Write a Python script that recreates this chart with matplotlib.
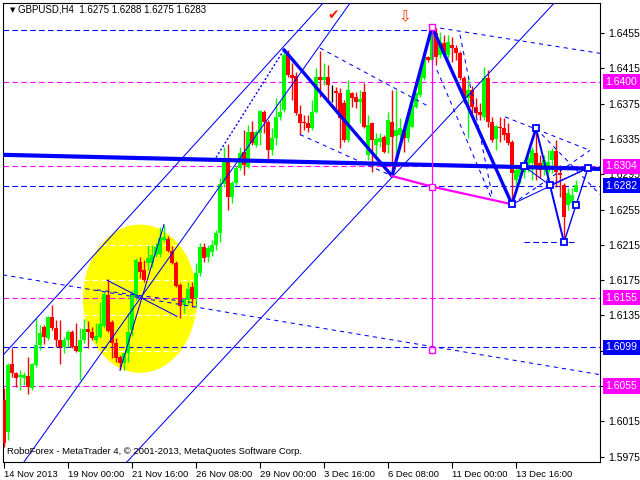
import numpy as np
import matplotlib
matplotlib.use('Agg')
import matplotlib.pyplot as plt
from matplotlib.patches import Ellipse

plt.rcParams['font.family'] = ['Liberation Sans', 'DejaVu Sans']

# GBPUSD H4 candles
opens = [
    1.6039, 1.6003, 1.6080, 1.6070, 1.6065, 1.6064, 1.6066, 1.6053, 1.6079, 1.6102,
    1.6122, 1.6109, 1.6133, 1.6121, 1.6107, 1.6099, 1.6107, 1.6116, 1.6100, 1.6094,
    1.6107, 1.6120, 1.6116, 1.6107, 1.6111, 1.6123, 1.6158, 1.6128, 1.6104, 1.6088,
    1.6081, 1.6092, 1.6119, 1.6156, 1.6196, 1.6186, 1.6194, 1.6194, 1.6204, 1.6205,
    1.6221, 1.6222, 1.6208, 1.6194, 1.6170, 1.6147, 1.6153, 1.6167, 1.6155, 1.6183,
    1.6213, 1.6201, 1.6207, 1.6215, 1.6228, 1.6284, 1.6313, 1.6269, 1.6285, 1.6302,
    1.6320, 1.6303, 1.6343, 1.6328, 1.6342, 1.6366, 1.6354, 1.6322, 1.6336, 1.6360,
    1.6368, 1.6430, 1.6407, 1.6406, 1.6363, 1.6354, 1.6353, 1.6347, 1.6366, 1.6405,
    1.6402, 1.6405, 1.6388, 1.6389, 1.6387, 1.6376, 1.6334, 1.6387, 1.6383, 1.6377,
    1.6388, 1.6317, 1.6353, 1.6328, 1.6332, 1.6337, 1.6328, 1.6354, 1.6338, 1.6339,
    1.6345, 1.6336, 1.6349, 1.6371, 1.6385, 1.6404, 1.6428, 1.6424, 1.6455, 1.6430,
    1.6444, 1.6430, 1.6441, 1.6438, 1.6432, 1.6404, 1.6381, 1.6390, 1.6371, 1.6366,
    1.6360, 1.6404, 1.6354, 1.6335, 1.6349, 1.6347, 1.6342, 1.6332, 1.6289, 1.6292,
    1.6298, 1.6303, 1.6308, 1.6319, 1.6308, 1.6300, 1.6298, 1.6311, 1.6321, 1.6296,
    1.6283, 1.6260, 1.6262, 1.6275]
highs = [
    1.6053, 1.6081, 1.6098, 1.6071, 1.6073, 1.6071, 1.6088, 1.6081, 1.6132, 1.6124,
    1.6124, 1.6134, 1.6147, 1.6130, 1.6130, 1.6111, 1.6119, 1.6119, 1.6126, 1.6121,
    1.6131, 1.6129, 1.6122, 1.6126, 1.6150, 1.6162, 1.6176, 1.6130, 1.6109, 1.6090,
    1.6092, 1.6138, 1.6164, 1.6200, 1.6201, 1.6198, 1.6215, 1.6215, 1.6217, 1.6235,
    1.6238, 1.6225, 1.6214, 1.6197, 1.6172, 1.6155, 1.6173, 1.6173, 1.6194, 1.6217,
    1.6217, 1.6215, 1.6221, 1.6232, 1.6291, 1.6326, 1.6329, 1.6287, 1.6304, 1.6326,
    1.6345, 1.6351, 1.6355, 1.6345, 1.6368, 1.6368, 1.6356, 1.6347, 1.6381, 1.6379,
    1.6436, 1.6436, 1.6421, 1.6411, 1.6373, 1.6362, 1.6362, 1.6379, 1.6415, 1.6435,
    1.6421, 1.6419, 1.6396, 1.6394, 1.6393, 1.6379, 1.6402, 1.6388, 1.6388, 1.6390,
    1.6398, 1.6362, 1.6354, 1.6342, 1.6342, 1.6339, 1.6366, 1.6390, 1.6390, 1.6359,
    1.6351, 1.6362, 1.6377, 1.6388, 1.6415, 1.6433, 1.6429, 1.6462, 1.6461, 1.6456,
    1.6453, 1.6453, 1.6450, 1.6441, 1.6435, 1.6406, 1.6405, 1.6395, 1.6381, 1.6376,
    1.6416, 1.6413, 1.6360, 1.6351, 1.6360, 1.6359, 1.6353, 1.6334, 1.6302, 1.6306,
    1.6311, 1.6319, 1.6326, 1.6347, 1.6317, 1.6317, 1.6322, 1.6325, 1.6334, 1.6306,
    1.6285, 1.6279, 1.6279, 1.6288]
lows = [
    1.5986, 1.5994, 1.6065, 1.6054, 1.6051, 1.6056, 1.6046, 1.6051, 1.6077, 1.6096,
    1.6103, 1.6107, 1.6119, 1.6099, 1.6080, 1.6092, 1.6099, 1.6098, 1.6094, 1.6062,
    1.6104, 1.6098, 1.6107, 1.6104, 1.6109, 1.6121, 1.6116, 1.6087, 1.6082, 1.6073,
    1.6073, 1.6082, 1.6112, 1.6153, 1.6177, 1.6173, 1.6187, 1.6190, 1.6201, 1.6201,
    1.6218, 1.6207, 1.6193, 1.6167, 1.6132, 1.6138, 1.6147, 1.6145, 1.6145, 1.6180,
    1.6196, 1.6196, 1.6202, 1.6209, 1.6218, 1.6281, 1.6255, 1.6262, 1.6283, 1.6300,
    1.6294, 1.6302, 1.6328, 1.6326, 1.6328, 1.6342, 1.6311, 1.6317, 1.6328, 1.6356,
    1.6366, 1.6405, 1.6379, 1.6362, 1.6339, 1.6345, 1.6343, 1.6345, 1.6364, 1.6383,
    1.6396, 1.6376, 1.6377, 1.6366, 1.6325, 1.6332, 1.6332, 1.6371, 1.6370, 1.6353,
    1.6347, 1.6311, 1.6298, 1.6317, 1.6326, 1.6319, 1.6319, 1.6293, 1.6317, 1.6334,
    1.6320, 1.6332, 1.6347, 1.6370, 1.6383, 1.6402, 1.6422, 1.6422, 1.6419, 1.6427,
    1.6428, 1.6427, 1.6422, 1.6424, 1.6402, 1.6376, 1.6336, 1.6364, 1.6360, 1.6356,
    1.6356, 1.6349, 1.6332, 1.6322, 1.6332, 1.6334, 1.6328, 1.6261, 1.6281, 1.6285,
    1.6291, 1.6298, 1.6289, 1.6289, 1.6291, 1.6294, 1.6285, 1.6296, 1.6281, 1.6269,
    1.6218, 1.6255, 1.6258, 1.6275]
closes = [
    1.5991, 1.6079, 1.6070, 1.6064, 1.6068, 1.6068, 1.6054, 1.6080, 1.6102, 1.6115,
    1.6111, 1.6133, 1.6121, 1.6107, 1.6099, 1.6107, 1.6116, 1.6099, 1.6095, 1.6107,
    1.6120, 1.6116, 1.6109, 1.6112, 1.6125, 1.6159, 1.6117, 1.6104, 1.6087, 1.6081,
    1.6092, 1.6116, 1.6158, 1.6198, 1.6184, 1.6175, 1.6200, 1.6204, 1.6213, 1.6223,
    1.6224, 1.6208, 1.6194, 1.6168, 1.6146, 1.6154, 1.6165, 1.6154, 1.6183, 1.6213,
    1.6200, 1.6211, 1.6215, 1.6228, 1.6284, 1.6313, 1.6269, 1.6285, 1.6302, 1.6319,
    1.6306, 1.6343, 1.6330, 1.6343, 1.6367, 1.6354, 1.6322, 1.6336, 1.6360, 1.6366,
    1.6430, 1.6407, 1.6404, 1.6364, 1.6353, 1.6353, 1.6347, 1.6366, 1.6405, 1.6402,
    1.6405, 1.6396, 1.6388, 1.6387, 1.6359, 1.6334, 1.6390, 1.6381, 1.6377, 1.6380,
    1.6349, 1.6351, 1.6334, 1.6335, 1.6336, 1.6320, 1.6356, 1.6337, 1.6345, 1.6347,
    1.6336, 1.6360, 1.6373, 1.6387, 1.6411, 1.6428, 1.6424, 1.6455, 1.6428, 1.6445,
    1.6432, 1.6445, 1.6438, 1.6432, 1.6404, 1.6381, 1.6390, 1.6371, 1.6364, 1.6362,
    1.6404, 1.6354, 1.6334, 1.6350, 1.6347, 1.6339, 1.6330, 1.6296, 1.6300, 1.6302,
    1.6306, 1.6313, 1.6322, 1.6302, 1.6300, 1.6311, 1.6309, 1.6321, 1.6298, 1.6294,
    1.6247, 1.6274, 1.6272, 1.6283]

date_bars = [0, 16, 32, 48, 64, 80, 96, 112, 128]
date_labels = ['14 Nov 2013', '19 Nov 00:00', '21 Nov 16:00', '26 Nov 08:00',
               '29 Nov 00:00', '3 Dec 16:00', '6 Dec 08:00', '11 Dec 00:00', '13 Dec 16:00']
price_ticks = [1.6455, 1.6415, 1.6375, 1.6335, 1.6295, 1.6255, 1.6215,
               1.6175, 1.6135, 1.6095, 1.6055, 1.6015, 1.5975]

# horizontal levels
magenta_levels = [1.6400, 1.6304, 1.6155, 1.6055]
blue_levels = [1.6282, 1.6099]
tagged_levels = [1.6400, 1.6304, 1.6282, 1.6155, 1.6099, 1.6055]
tagged_colors = ['#ff00ff', '#ff00ff', '#0000ff', '#ff00ff', '#0000ff', '#ff00ff']
top_level = 1.6458
low_level = 1.6218

# wave analysis objects (bar index, price)
zigzag_bars = [70, 97, 107, 127, 133, 140, 146]
zigzag_prices = [1.6436, 1.6293, 1.6462, 1.6261, 1.6347, 1.6218, 1.6302]
pink_bars = [97, 107, 127]
pink_prices = [1.6293, 1.6281, 1.6261]
pink_target = 1.6096
thick_line = [(-0.25, 1.6317), (149, 1.6301)]
channel_lines = [[(-0.25, 1.6090), (79, 1.6485)],
                 [(44.5, 1.6221), (79, 1.6441)],
                 [(79, 1.6204), (124, 1.6423)]]
dotted_lines = [[(53, 1.6314), (70, 1.6436)]]
dashed_lines = [[(-0.25, 1.6181), (149, 1.6068)],
                [(107, 1.6462), (149, 1.6432)],
                [(74, 1.6340), (97, 1.6293)],
                [(79, 1.6438), (106.5, 1.6371)],
                [(114, 1.6453), (122, 1.6272)],
                [(108.25, 1.6413), (121.75, 1.6269)],
                [(125.25, 1.6360), (146.5, 1.6322)],
                [(127, 1.6261), (146.5, 1.6322)],
                [(133, 1.6347), (149, 1.6272)],
                [(23.25, 1.6164), (48.25, 1.6149)]]
thin_lines = [[(25.75, 1.6175), (43.25, 1.6134)],
              [(29, 1.6073), (40, 1.6238)]]
circle_bar, circle_price = 34, 1.6154
circle_w, circle_h = 28.5, 0.0168

BLUE = '#0000ff'
MAG = '#ff00ff'
DASH = (0, (5, 3))

fig = plt.figure(figsize=(6.4, 4.8), dpi=100)
ax = fig.add_axes([3 / 640, 18 / 480, 597 / 640, 459 / 480])
ax.set_xlim(-0.25, 149)
ax.set_ylim(1.5969, 1.6489)

# yellow circle with the white grid showing on it
ax.add_patch(Ellipse((circle_bar, circle_price), circle_w, circle_h,
                     facecolor='#ffff00', edgecolor='none', zorder=1))
for p in price_ticks:
    ax.axhline(p, color='white', lw=0.8, ls=DASH, zorder=1.2)

# levels
for p in magenta_levels:
    ax.axhline(p, color=MAG, lw=0.8, ls=DASH, zorder=2)
for p in blue_levels:
    ax.axhline(p, color=BLUE, lw=0.8, ls=DASH, zorder=2)
ax.plot([-0.25, zigzag_bars[2]], [top_level, top_level], color=BLUE, lw=0.8, ls=DASH, zorder=2)
ax.plot([130, 143], [low_level, low_level], color=BLUE, lw=0.8, ls=DASH, zorder=2)

# candles
o = np.array(opens)
h = np.array(highs)
l = np.array(lows)
c = np.array(closes)
x = np.arange(len(o))
cols = np.where(c > o, '#00ff00', np.where(c < o, '#ff0000', '#000000'))
ax.vlines(x, l, h, colors=cols, lw=1.0, zorder=3)
ax.bar(x, np.maximum(np.abs(c - o), 0.00005), bottom=np.minimum(o, c),
       width=0.82, color=cols, lw=0, zorder=3)

# trend lines
for p1, p2 in channel_lines:
    ax.axline(p1, p2, color=BLUE, lw=0.75, zorder=4)
for seg in dotted_lines:
    ax.plot(*zip(*seg), color=BLUE, lw=1, ls=(0, (1.5, 1.5)), zorder=4)
for seg in dashed_lines:
    ax.plot(*zip(*seg), color=BLUE, lw=0.75, ls=(0, (4, 4)), zorder=4)
for seg in thin_lines:
    ax.plot(*zip(*seg), color=BLUE, lw=0.75, zorder=4)

ax.plot(*zip(*thick_line), color=BLUE, lw=3, solid_capstyle='butt', zorder=5)

# zigzag
widths = [2.4, 2.4, 2.4, 2.0, 1.4, 1.0]
for k in range(len(zigzag_bars) - 1):
    ax.plot(zigzag_bars[k:k + 2], zigzag_prices[k:k + 2], color=BLUE, lw=widths[k],
            solid_capstyle='round', zorder=5)
mid_b = [(zigzag_bars[k] + zigzag_bars[k + 1]) / 2 for k in range(3, 6)]
mid_p = [(zigzag_prices[k] + zigzag_prices[k + 1]) / 2 for k in range(3, 6)]
ax.plot([zigzag_bars[3], zigzag_bars[6]], [zigzag_prices[3], zigzag_prices[6]],
        color=BLUE, lw=0.75, zorder=5)
ax.plot([mid_b[0], mid_b[1], zigzag_bars[6]], [mid_p[0], mid_p[1], zigzag_prices[6]],
        color=BLUE, lw=0.75, zorder=5)
ax.plot(zigzag_bars[3:] + mid_b, zigzag_prices[3:] + mid_p, ls='none', marker='s',
        ms=5, mfc='white', mec=BLUE, mew=1.3, zorder=6)

# pink projection
ax.plot(pink_bars, pink_prices, color=MAG, lw=1.6, zorder=5)
ax.plot([pink_bars[1], pink_bars[1]], [zigzag_prices[2], pink_target], color=MAG, lw=0.9, zorder=5)
ax.plot([pink_bars[1]] * 3, [zigzag_prices[2], pink_prices[1], pink_target], ls='none',
        marker='s', ms=4, mfc='white', mec=MAG, mew=1, zorder=6)

ax.text(82.25, 1.6475, '\u2714', color='#ff2000', fontsize=10, ha='center', va='center',
        family='DejaVu Sans', zorder=7)
ax.text(100.25, 1.6473, '\u21e9', color='#ff3000', fontsize=11, ha='center', va='center',
        family='DejaVu Sans', zorder=7)

# axes styling
for s in ax.spines.values():
    s.set_color('black')
    s.set_linewidth(0.8)
ax.yaxis.tick_right()
# the two ticks hidden behind level tags keep their mark but no text
tick_text = ['' if any(abs(p - t) < 0.0006 for t in (1.6099, 1.6055)) else f'{p:.4f}'
             for p in price_ticks]
ax.set_yticks(price_ticks, tick_text)
ax.set_xticks(date_bars, date_labels)
for lab in ax.get_xticklabels():
    lab.set_horizontalalignment('left')
ax.tick_params(axis='y', direction='out', length=3, width=0.8, pad=3, labelsize=7.5)
ax.tick_params(axis='x', direction='out', length=4, width=0.8, pad=2, labelsize=6.8)

for p, col in zip(tagged_levels, tagged_colors):
    ax.text(1.0095, p, f'{p:.4f}', transform=ax.get_yaxis_transform(), color='white',
            fontsize=7.5, ha='left', va='center', zorder=10,
            bbox=dict(boxstyle='square,pad=0.25', fc=col, ec='none'))

fig.text(10 / 640, 1 - 10 / 480, '\u25bc', fontsize=5, va='center', ha='left', family='DejaVu Sans')
fig.text(18 / 640, 1 - 10 / 480, 'GBPUSD,H4  1.6275 1.6288 1.6275 1.6283', fontsize=7, va='center')
fig.text(7 / 640, 1 - 452 / 480, 'RoboForex - MetaTrader 4, \u00a9 2001-2013, MetaQuotes Software Corp.',
         fontsize=6.8, va='center')

fig.savefig('out.png', dpi=100, facecolor='white')
